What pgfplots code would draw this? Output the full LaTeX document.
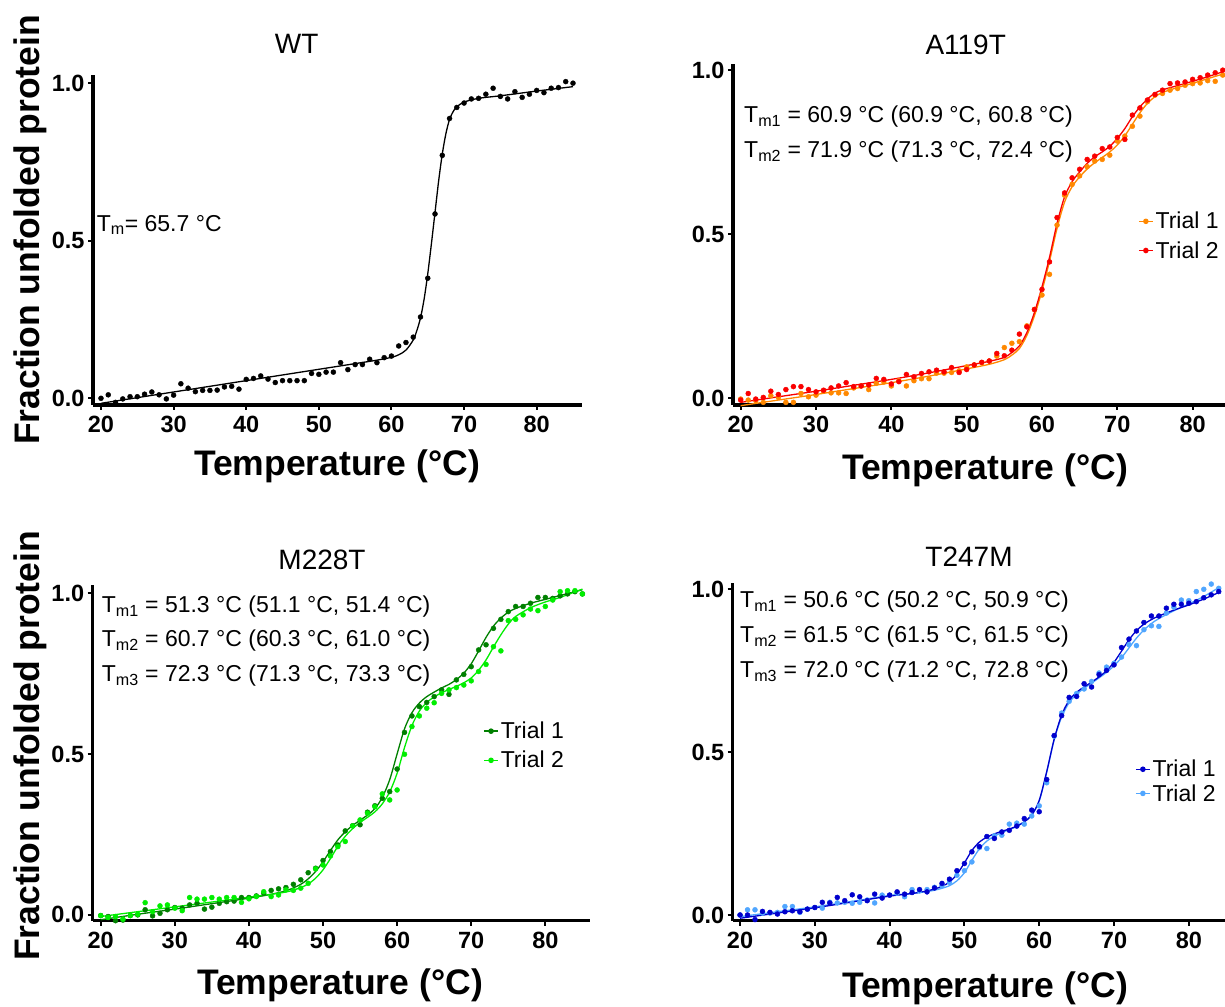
\documentclass[border=0pt]{standalone}
\usepackage{fontspec}
\setmainfont{Liberation Sans}
\usepackage{pgfplots}
\pgfplotsset{compat=1.18}
\definecolor{orange1}{RGB}{255,136,0}
\definecolor{red1}{RGB}{250,0,0}
\definecolor{dgreen}{RGB}{0,128,0}
\definecolor{bgreen}{RGB}{0,238,0}
\definecolor{dblue}{RGB}{0,0,205}
\definecolor{lblue}{RGB}{80,166,255}
\newcommand{\fs}[1]{\fontsize{#1}{#1}\selectfont}
\pgfplotsset{
  panel/.style={
    scale only axis, axis lines=left,
    axis line style={-, line width=3.2pt},
    tick align=outside, major tick length=5pt,
    tick style={black, line width=2pt},
    xtick={20,30,40,50,60,70,80}, ytick={0,0.5,1}, yticklabels={0.0,0.5,1.0},
    ticklabel style={font=\fs{23.5}\bfseries},
    xticklabel style={yshift=-3pt},
    /pgf/number format/assume math mode=true,
    clip=false,
    legend style={draw=none, fill=none, inner sep=0pt, font=\fs{23}, cells={anchor=west}},
    legend image code/.code={\draw[mark repeat=2,mark phase=2,##1] plot coordinates {(0pt,0pt) (7pt,0pt) (14pt,0pt)};},
  },
  pts/.style={only marks, mark=*, mark size=2.5pt, forget plot},
  fitc/.style={smooth, line width=1.3pt, forget plot, no marks},
}
\begin{document}
\begin{tikzpicture}[x=1pt,y=1pt]
\useasboundingbox (0,0) rectangle (1225,1006);

% ---------------- WT ----------------
\begin{axis}[panel, at={(93pt,601pt)}, anchor=south west, width=488.7pt, height=330pt,
  xmin=18.9, xmax=86.2, ymin=-0.0213, ymax=1.026]
\addplot[pts, black] coordinates {(20,0.000)(21,0.011)(22,-0.013)(23,-0.002)(24,0.005)(25,0.005)(26,0.013)(27,0.020)(28,0.011)(29,-0.002)(30,0.010)(31,0.046)(32,0.032)(33,0.021)(34,0.025)(35,0.025)(36,0.026)(37,0.036)(38,0.038)(39,0.029)(40,0.060)(41,0.063)(42,0.071)(43,0.061)(44,0.050)(45,0.056)(46,0.056)(47,0.056)(48,0.056)(49,0.079)(50,0.076)(51,0.083)(52,0.083)(53,0.113)(54,0.091)(55,0.107)(56,0.107)(57,0.124)(58,0.113)(59,0.129)(60,0.134)(61,0.166)(62,0.177)(63,0.194)(64,0.258)(65,0.381)(66,0.585)(67,0.771)(68,0.888)(69,0.923)(70,0.937)(71,0.950)(72,0.952)(73,0.965)(74,0.984)(75,0.958)(76,0.950)(77,0.973)(78,0.955)(79,0.965)(80,0.977)(81,0.970)(82,0.984)(83,0.986)(84,1.005)(85,1.000)};
\addplot[fitc, black] coordinates {(20,-0.016)(25,0.002)(30,0.020)(35,0.038)(40,0.056)(45,0.074)(50,0.092)(55,0.110)(58,0.121)(60,0.130)(61,0.138)(62,0.153)(63,0.185)(63.5,0.215)(64,0.255)(64.5,0.315)(65,0.395)(65.5,0.49)(66,0.59)(66.5,0.69)(67,0.775)(67.5,0.84)(68,0.885)(68.5,0.91)(69,0.925)(70,0.940)(72,0.952)(75,0.960)(80,0.975)(85,0.989)};
\end{axis}

% ---------------- A119T ----------------
\begin{axis}[panel, at={(733pt,601pt)}, anchor=south west, width=492pt, height=341.4pt,
  xmin=18.98, xmax=84.3, ymin=-0.02, ymax=1.02,
  legend style={at={(axis description cs:0.823,0.571)}, anchor=north west, row sep=7pt}]
\addplot[pts, orange1] coordinates {(20,-0.002)(21,-0.005)(22,-0.007)(23,-0.012)(24,0.008)(25,0.003)(26,-0.012)(27,-0.012)(28,0.015)(29,0.005)(30,0.010)(31,0.022)(32,0.017)(33,0.017)(34,0.015)(35,0.032)(36,0.038)(37,0.027)(38,0.046)(39,0.050)(40,0.038)(41,0.054)(42,0.038)(43,0.054)(44,0.060)(45,0.060)(46,0.077)(47,0.077)(48,0.079)(49,0.084)(50,0.096)(51,0.102)(52,0.109)(53,0.114)(54,0.129)(55,0.155)(56,0.168)(57,0.173)(58,0.221)(59,0.271)(60,0.315)(61,0.378)(62,0.528)(63,0.619)(64,0.652)(65,0.678)(66,0.706)(67,0.723)(68,0.728)(69,0.741)(70,0.784)(71,0.799)(72,0.829)(73,0.860)(74,0.904)(75,0.924)(76,0.929)(77,0.939)(78,0.944)(79,0.954)(80,0.959)(81,0.961)(82,0.968)(83,0.966)(84,0.985)};
\addplot[pts, red1] coordinates {(20,-0.005)(21,0.015)(22,-0.002)(23,0.003)(24,0.022)(25,0.012)(26,0.027)(27,0.036)(28,0.036)(29,0.027)(30,0.020)(31,0.025)(32,0.032)(33,0.038)(34,0.048)(35,0.036)(36,0.038)(37,0.041)(38,0.061)(39,0.058)(40,0.044)(41,0.051)(42,0.073)(43,0.066)(44,0.076)(45,0.081)(46,0.086)(47,0.081)(48,0.094)(49,0.079)(50,0.088)(51,0.102)(52,0.110)(53,0.114)(54,0.137)(55,0.130)(56,0.147)(57,0.196)(58,0.218)(59,0.271)(60,0.332)(61,0.416)(62,0.551)(63,0.626)(64,0.672)(65,0.698)(66,0.728)(67,0.738)(68,0.761)(69,0.766)(70,0.795)(71,0.789)(72,0.863)(73,0.885)(74,0.909)(75,0.926)(76,0.939)(77,0.959)(78,0.961)(79,0.964)(80,0.972)(81,0.977)(82,0.985)(83,0.992)(84,1.000)};
\addplot[fitc, orange1] coordinates {(20,-0.022)(25,-0.005)(30,0.012)(35,0.030)(40,0.048)(45,0.068)(50,0.090)(53,0.104)(55,0.118)(56,0.132)(57,0.152)(58,0.192)(59,0.252)(60,0.328)(61,0.418)(62,0.518)(63,0.598)(64,0.645)(65,0.675)(66,0.699)(67,0.718)(68,0.734)(69,0.751)(70,0.772)(71,0.800)(72,0.835)(73,0.870)(74,0.899)(75,0.919)(76,0.932)(78,0.947)(80,0.960)(82,0.974)(84,0.988)};
\addplot[fitc, red1] coordinates {(20,-0.012)(25,0.005)(30,0.022)(35,0.040)(40,0.058)(45,0.078)(50,0.100)(53,0.113)(55,0.125)(56,0.140)(57,0.160)(58,0.201)(59,0.262)(60,0.340)(61,0.430)(62,0.533)(63,0.614)(64,0.660)(65,0.690)(66,0.716)(67,0.736)(68,0.751)(69,0.768)(70,0.792)(71,0.822)(72,0.858)(73,0.888)(74,0.912)(75,0.930)(76,0.940)(78,0.953)(80,0.966)(82,0.980)(84,0.995)};
\addlegendimage{orange1, mark=*, mark size=2pt, line width=1.5pt}
\addlegendentry{Trial 1}
\addlegendimage{red1, mark=*, mark size=2pt, line width=1.5pt}
\addlegendentry{Trial 2}
\end{axis}

% ---------------- M228T ----------------
\begin{axis}[panel, at={(92.7pt,85.3pt)}, anchor=south west, width=497.3pt, height=335.8pt,
  xmin=18.92, xmax=86.03, ymin=-0.018, ymax=1.025,
  legend style={at={(axis description cs:0.785,0.598)}, anchor=north west, row sep=7pt}]
\addplot[pts, dgreen] coordinates {(20,-0.002)(21,-0.005)(22,-0.018)(23,-0.016)(24,-0.002)(25,0.000)(26,0.016)(27,-0.003)(28,0.005)(29,0.016)(30,0.023)(31,0.021)(32,0.031)(33,0.036)(34,0.018)(35,0.024)(36,0.036)(37,0.041)(38,0.043)(39,0.054)(40,0.054)(41,0.059)(42,0.067)(43,0.076)(44,0.081)(45,0.085)(46,0.095)(47,0.109)(48,0.131)(49,0.145)(50,0.169)(51,0.197)(52,0.217)(53,0.261)(54,0.277)(55,0.280)(56,0.319)(57,0.339)(58,0.362)(59,0.383)(60,0.453)(61,0.567)(62,0.618)(63,0.647)(64,0.660)(65,0.678)(66,0.699)(67,0.685)(68,0.730)(69,0.747)(70,0.771)(71,0.823)(72,0.839)(73,0.890)(74,0.918)(75,0.942)(76,0.958)(77,0.958)(78,0.968)(79,0.986)(80,0.986)(81,0.983)(82,0.991)(83,0.997)(84,1.004)(85,0.997)};
\addplot[pts, bgreen] coordinates {(20,-0.002)(21,-0.008)(22,-0.005)(23,-0.013)(24,-0.002)(25,0.002)(26,0.038)(27,0.010)(28,0.028)(29,0.031)(30,0.021)(31,0.013)(32,0.054)(33,0.049)(34,0.049)(35,0.054)(36,0.049)(37,0.054)(38,0.054)(39,0.039)(40,0.050)(41,0.057)(42,0.072)(43,0.057)(44,0.062)(45,0.078)(46,0.076)(47,0.083)(48,0.098)(49,0.143)(50,0.155)(51,0.183)(52,0.212)(53,0.228)(54,0.276)(55,0.295)(56,0.316)(57,0.336)(58,0.376)(59,0.357)(60,0.388)(61,0.499)(62,0.585)(63,0.618)(64,0.642)(65,0.659)(66,0.688)(67,0.699)(68,0.706)(69,0.714)(70,0.727)(71,0.756)(72,0.778)(73,0.833)(74,0.820)(75,0.914)(76,0.918)(77,0.932)(78,0.950)(79,0.945)(80,0.958)(81,0.978)(82,1.004)(83,1.007)(84,1.007)(85,0.997)};
\addplot[fitc, dgreen] coordinates {(20,-0.015)(25,0.002)(30,0.018)(35,0.035)(40,0.052)(43,0.064)(45,0.075)(46,0.084)(47,0.095)(48,0.112)(49,0.135)(50,0.165)(51,0.200)(52,0.233)(53,0.258)(54,0.278)(55,0.294)(56,0.310)(57,0.330)(58,0.365)(59,0.420)(60,0.500)(61,0.578)(62,0.628)(63,0.658)(64,0.678)(65,0.692)(66,0.705)(67,0.716)(68,0.731)(69,0.751)(70,0.780)(71,0.820)(72,0.862)(73,0.897)(74,0.922)(75,0.940)(76,0.952)(78,0.968)(80,0.980)(82,0.992)(85,1.010)};
\addplot[fitc, bgreen] coordinates {(20,-0.005)(25,0.010)(30,0.025)(35,0.040)(40,0.055)(43,0.064)(45,0.071)(46,0.077)(47,0.085)(48,0.096)(49,0.114)(50,0.140)(51,0.175)(52,0.213)(53,0.244)(54,0.268)(55,0.287)(56,0.303)(57,0.320)(58,0.345)(59,0.382)(60,0.440)(61,0.520)(62,0.588)(63,0.633)(64,0.660)(65,0.677)(66,0.690)(67,0.700)(68,0.710)(69,0.721)(70,0.736)(71,0.760)(72,0.792)(73,0.832)(74,0.870)(75,0.903)(76,0.927)(78,0.954)(80,0.972)(82,0.986)(85,1.012)};
\addlegendimage{dgreen, mark=*, mark size=2pt, line width=1.5pt}
\addlegendentry{Trial 1}
\addlegendimage{bgreen, mark=*, mark size=2pt, line width=1.5pt}
\addlegendentry{Trial 2}
\end{axis}

% ---------------- T247M ----------------
\begin{axis}[panel, at={(732.7pt,85.3pt)}, anchor=south west, width=492.3pt, height=337.6pt,
  xmin=19.02, xmax=84.84, ymin=-0.0175, ymax=1.019,
  legend style={at={(axis description cs:0.817,0.482)}, anchor=north west, row sep=2pt}]
\addplot[pts, lblue] coordinates {(20,0.000)(21,0.016)(22,0.016)(23,0.006)(24,0.006)(25,0.008)(26,0.026)(27,0.026)(28,0.008)(29,0.018)(30,0.023)(31,0.021)(32,0.039)(33,0.037)(34,0.039)(35,0.036)(36,0.039)(37,0.046)(38,0.037)(39,0.061)(40,0.061)(41,0.067)(42,0.056)(43,0.078)(44,0.074)(45,0.078)(46,0.085)(47,0.090)(48,0.100)(49,0.122)(50,0.136)(51,0.163)(52,0.207)(53,0.204)(54,0.243)(55,0.245)(56,0.279)(57,0.282)(58,0.279)(59,0.304)(60,0.335)(61,0.406)(62,0.549)(63,0.620)(64,0.656)(65,0.680)(66,0.694)(67,0.717)(68,0.743)(69,0.761)(70,0.773)(71,0.792)(72,0.830)(73,0.827)(74,0.876)(75,0.888)(76,0.886)(77,0.927)(78,0.945)(79,0.967)(80,0.965)(81,0.993)(82,1.000)(83,1.016)(84,1.003)};
\addplot[pts, dblue] coordinates {(20,0.000)(21,0.000)(22,-0.014)(23,0.011)(24,0.008)(25,0.003)(26,0.010)(27,0.013)(28,0.010)(29,0.018)(30,0.023)(31,0.039)(32,0.037)(33,0.054)(34,0.044)(35,0.062)(36,0.056)(37,0.044)(38,0.064)(39,0.052)(40,0.061)(41,0.071)(42,0.064)(43,0.069)(44,0.078)(45,0.071)(46,0.083)(47,0.097)(48,0.110)(49,0.136)(50,0.158)(51,0.194)(52,0.210)(53,0.241)(54,0.235)(55,0.255)(56,0.260)(57,0.273)(58,0.296)(59,0.322)(60,0.317)(61,0.416)(62,0.551)(63,0.612)(64,0.668)(65,0.671)(66,0.710)(67,0.700)(68,0.738)(69,0.751)(70,0.768)(71,0.821)(72,0.847)(73,0.872)(74,0.898)(75,0.918)(76,0.918)(77,0.942)(78,0.954)(79,0.954)(80,0.957)(81,0.962)(82,0.974)(83,0.983)(84,0.993)};
\addplot[fitc, lblue] coordinates {(20,-0.005)(25,0.010)(30,0.025)(35,0.042)(40,0.060)(43,0.066)(45,0.072)(46,0.076)(47,0.082)(48,0.090)(49,0.105)(50,0.130)(51,0.168)(52,0.203)(53,0.227)(54,0.242)(55,0.253)(56,0.262)(57,0.272)(58,0.286)(59,0.307)(60,0.350)(61,0.438)(62,0.538)(63,0.608)(64,0.652)(65,0.678)(66,0.696)(67,0.712)(68,0.728)(69,0.745)(70,0.765)(71,0.790)(72,0.820)(73,0.850)(74,0.875)(75,0.895)(76,0.910)(78,0.934)(80,0.955)(82,0.978)(84,1.005)};
\addplot[fitc, dblue] coordinates {(20,-0.010)(25,0.006)(30,0.022)(35,0.040)(40,0.058)(43,0.066)(45,0.074)(46,0.080)(47,0.088)(48,0.101)(49,0.125)(50,0.160)(51,0.198)(52,0.224)(53,0.239)(54,0.249)(55,0.257)(56,0.264)(57,0.273)(58,0.286)(59,0.307)(60,0.352)(61,0.440)(62,0.540)(63,0.614)(64,0.659)(65,0.684)(66,0.700)(67,0.715)(68,0.731)(69,0.750)(70,0.776)(71,0.810)(72,0.845)(73,0.873)(74,0.893)(75,0.907)(76,0.918)(78,0.936)(80,0.952)(82,0.970)(84,0.990)};
\addlegendimage{dblue, mark=*, mark size=2pt, line width=1.5pt}
\addlegendentry{Trial 1}
\addlegendimage{lblue, mark=*, mark size=2pt, line width=1.5pt}
\addlegendentry{Trial 2}
\end{axis}

% ---------------- titles, labels, annotations ----------------
\node[font=\fs{28}] at (296.7,962) {WT};
\node[font=\fs{28}] at (965.7,961) {A119T};
\node[font=\fs{28}] at (322,446) {M228T};
\node[font=\fs{28}] at (969,449) {T247M};
\node[font=\fs{35.5}\bfseries] at (337,540) {Temperature (°C)};
\node[font=\fs{35.5}\bfseries] at (985,536) {Temperature (°C)};
\node[font=\fs{35.5}\bfseries] at (340,21) {Temperature (°C)};
\node[font=\fs{35.5}\bfseries] at (985,18) {Temperature (°C)};
\node[font=\fs{35.5}\bfseries, rotate=90] at (30,776) {Fraction unfolded protein};
\node[font=\fs{35.5}\bfseries, rotate=90] at (30,260) {Fraction unfolded protein};
\node[font=\fs{23}, anchor=west, inner sep=0pt] at (96.7,781) {T\textsubscript{m}= 65.7 °C};
\node[font=\fs{23}, anchor=west, inner sep=0pt] at (744,889) {T\textsubscript{m1} = 60.9 °C (60.9 °C, 60.8 °C)};
\node[font=\fs{23}, anchor=west, inner sep=0pt] at (744,854) {T\textsubscript{m2} = 71.9 °C (71.3 °C, 72.4 °C)};
\node[font=\fs{23}, anchor=west, inner sep=0pt] at (101.7,399.3) {T\textsubscript{m1} = 51.3 °C (51.1 °C, 51.4 °C)};
\node[font=\fs{23}, anchor=west, inner sep=0pt] at (101.7,365.3) {T\textsubscript{m2} = 60.7 °C (60.3 °C, 61.0 °C)};
\node[font=\fs{23}, anchor=west, inner sep=0pt] at (101.7,330) {T\textsubscript{m3} = 72.3 °C (71.3 °C, 73.3 °C)};
\node[font=\fs{23}, anchor=west, inner sep=0pt] at (740,404.3) {T\textsubscript{m1} = 50.6 °C (50.2 °C, 50.9 °C)};
\node[font=\fs{23}, anchor=west, inner sep=0pt] at (740,369.3) {T\textsubscript{m2} = 61.5 °C (61.5 °C, 61.5 °C)};
\node[font=\fs{23}, anchor=west, inner sep=0pt] at (740,334.3) {T\textsubscript{m3} = 72.0 °C (71.2 °C, 72.8 °C)};
\end{tikzpicture}
\end{document}
